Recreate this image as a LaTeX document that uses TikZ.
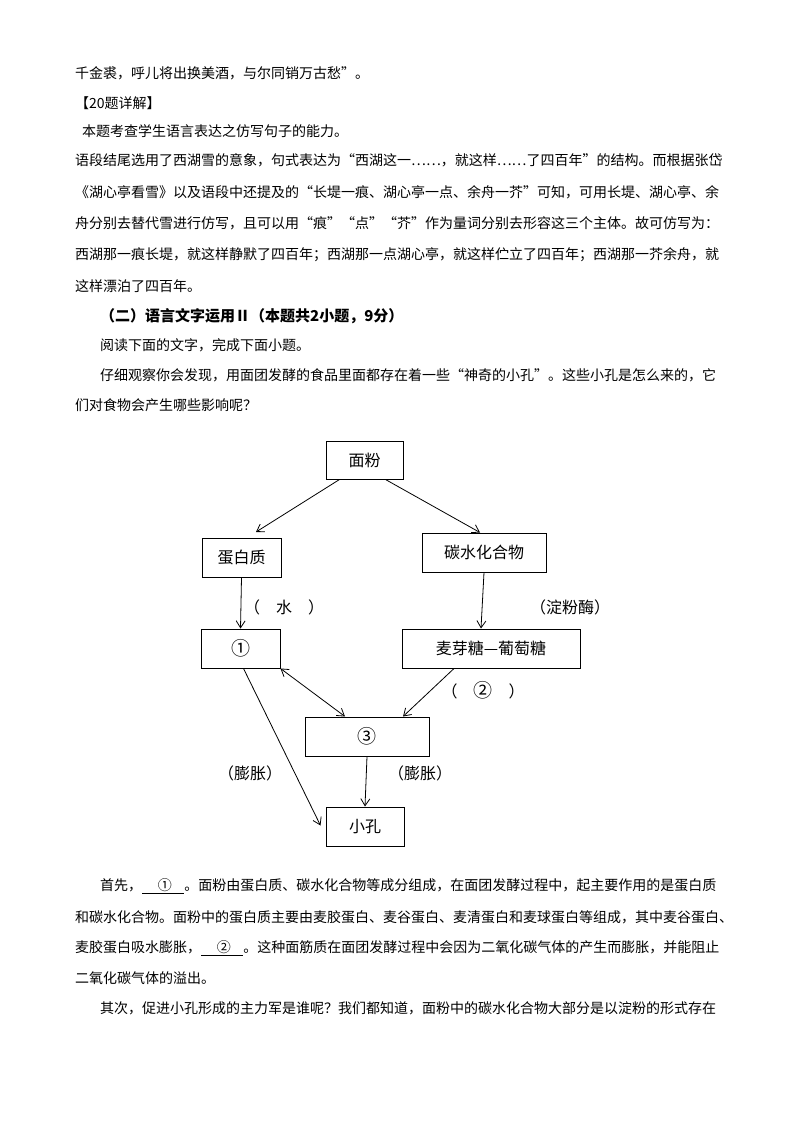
\documentclass[tikz,border=0pt]{standalone}
\usepackage{fontspec}
\setmainfont{Noto Sans CJK SC}
\usetikzlibrary{arrows.meta}
\newcommand{\bigc}[1]{{\fontsize{19}{19}\selectfont #1}}
\begin{document}
\begin{tikzpicture}[x=1pt,y=-1pt,
  txt/.style={anchor=west,inner sep=0pt,font=\fontsize{14}{14}\selectfont},
  bx/.style={draw,line width=1pt,inner sep=0pt,font=\fontsize{16}{16}\selectfont},
  lab/.style={inner sep=0pt,font=\fontsize{16}{16}\selectfont},
  arr/.style={-{Straight Barb[length=7pt,width=9pt]},line width=0.8pt}]
\useasboundingbox[fill=white] (0,0) rectangle (800,1132);
% top text
\node[txt] (t1) at (75,73) {千金裘，呼儿将出换美酒，与尔同销万古愁”。};
\node[txt] (t2) at (75,103) {【20题详解】};
\node[txt] (t3) at (82,131) {本题考查学生语言表达之仿写句子的能力。};
\node[txt,text width=650pt,align=justify] (t4) at (75,160) {语段结尾选用了西湖雪的意象，句式表达为“西湖这一……，就这样……了四百年”的结构。而根据张岱};
\node[txt,text width=650pt,align=justify] (t5) at (75,192) {《湖心亭看雪》以及语段中还提及的“长堤一痕、湖心亭一点、余舟一芥”可知，可用长堤、湖心亭、余};
\node[txt,text width=650pt,align=justify] (t6) at (75,223) {舟分别去替代雪进行仿写，且可以用“痕”“点”“芥”作为量词分别去形容这三个主体。故可仿写为：};
\node[txt,text width=650pt,align=justify] (t7) at (75,255) {西湖那一痕长堤，就这样静默了四百年；西湖那一点湖心亭，就这样伫立了四百年；西湖那一芥余舟，就};
\node[txt] (t8) at (75,286) {这样漂泊了四百年。};
\node[txt,font=\fontsize{15}{15}\selectfont\bfseries] (t9) at (100,316) {（二）语言文字运用Ⅱ（本题共2小题，9分）};
\node[txt] (t10) at (100,345) {阅读下面的文字，完成下面小题。};
\node[txt,text width=625pt,align=justify] (t11) at (100,375) {仔细观察你会发现，用面团发酵的食品里面都存在着一些“神奇的小孔”。这些小孔是怎么来的，它};
\node[txt] (t12) at (75,405) {们对食物会产生哪些影响呢？};
% diagram
\node[bx,minimum width=77pt,minimum height=38pt] (mf) at (364.5,460) {面粉};
\node[bx,minimum width=79pt,minimum height=39pt] (dbz) at (241.5,557.5) {蛋白质};
\node[bx,minimum width=124pt,minimum height=39pt] (ts) at (484,552.5) {碳水化合物};
\node[bx,minimum width=79pt,minimum height=39pt] (n1) at (240.5,648.5) {\bigc{①}};
\node[bx,minimum width=178pt,minimum height=39pt] (myt) at (491,648.5) {麦芽糖—葡萄糖};
\node[bx,minimum width=124pt,minimum height=39pt] (n3) at (367,736.5) {\bigc{③}};
\node[bx,minimum width=78pt,minimum height=39pt] (xk) at (365,826.5) {小孔};
\draw[arr] ([xshift=14pt]mf.south west) -- (256,532);
\draw[arr] ([xshift=-18pt]mf.south east) -- ([xshift=-4pt]ts.north);
\draw[arr] (dbz.south) -- (n1.north);
\draw[arr] (ts.south) -- ([xshift=-10pt]myt.north);
\draw[{Straight Barb[length=7pt,width=9pt]}-{Straight Barb[length=7pt,width=9pt]},line width=0.8pt] (n1.south east) -- ([xshift=-22pt]n3.north);
\draw[arr] ([xshift=-37pt]myt.south) -- ([xshift=36pt]n3.north);
\draw[arr] ([xshift=3pt]n1.south) -- ([xshift=-5pt,yshift=1pt]xk.west);
\draw[arr] (n3.south) -- (xk.north);
\node[lab] (l1) at (284,607) {（\quad 水\quad ）};
\node[lab] (l2) at (570,607) {（淀粉酶）};
\node[lab] (l3) at (483,690) {（\quad\bigc{②}\quad ）};
\node[lab] (l4) at (250,773) {（膨胀）};
\node[lab] (l5) at (420,773) {（膨胀）};
% bottom text
\node[txt,text width=625pt,align=justify] (b1) at (100,886) {首先，\underline{\ \ \ \ \ ①\ \ \ \ }。面粉由蛋白质、碳水化合物等成分组成，在面团发酵过程中，起主要作用的是蛋白质};
\node[txt,text width=650pt,align=justify] (b2) at (75,917) {和碳水化合物。面粉中的蛋白质主要由麦胶蛋白、麦谷蛋白、麦清蛋白和麦球蛋白等组成，其中麦谷蛋白、};
\node[txt,text width=650pt,align=justify] (b3) at (75,948) {麦胶蛋白吸水膨胀，\underline{\ \ \ \ \ ②\ \ \ \ }。这种面筋质在面团发酵过程中会因为二氧化碳气体的产生而膨胀，并能阻止};
\node[txt] (b4) at (75,978) {二氧化碳气体的溢出。};
\node[txt,text width=625pt,align=justify] (b5) at (100,1008) {其次，促进小孔形成的主力军是谁呢？我们都知道，面粉中的碳水化合物大部分是以淀粉的形式存在};
\end{tikzpicture}
\end{document}
